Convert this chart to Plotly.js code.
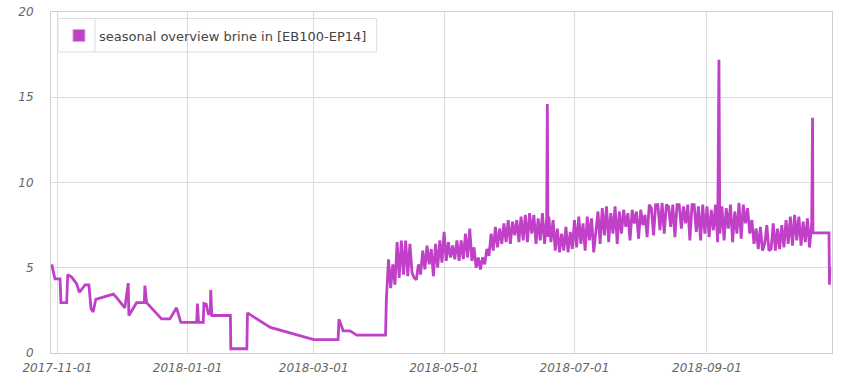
<!DOCTYPE html>
<html>
<head>
<meta charset="utf-8">
<script src="https://cdn.plot.ly/plotly-3.0.1.min.js"></script>
<style>
html,body{margin:0;padding:0;background:#fff;}
#chart{width:850px;height:375px;}
</style>
</head>
<body>
<div id="chart"></div>
<script>
// Data: offsets in days from the base date, and brine-in temperatures
const baseDate = "2017-11-01";
const seriesName = "seasonal overview brine in [EB100-EP14]";
const dayOffsets = [
  -2.6, -1.1, 1.3, 1.7, 4.4, 4.9, 6.7, 9.1, 10.3, 13.0, 14.8, 15.8, 16.8, 18.0,
  26.2, 27.8, 31.6, 33.2, 33.5, 37.1, 40.7, 41.0, 41.8, 48.8, 52.7, 55.8, 57.8,
  65.2, 65.6, 66.1, 68.3, 68.6, 69.7, 70.7, 71.6, 71.8, 72.3, 81.0, 81.2, 88.7,
  89.0, 99.7, 120.0, 131.4, 131.8, 133.8, 137.0, 140.1, 153.6,
  154, 155, 156, 157, 158, 159, 160, 161, 162, 163, 164, 165, 166, 167, 168, 169,
  170, 171, 172, 173, 174, 175, 176, 177, 178, 179, 180, 181, 182, 183, 184, 185,
  186, 187, 188, 189, 190, 191, 192, 193, 194, 195, 196, 197, 198, 199, 200, 201,
  202, 203, 204, 205, 206, 207, 208, 209, 210, 211, 212, 213, 214, 215, 216, 217,
  218, 219, 220, 221, 222, 223, 224, 225, 226, 227, 228, 229, 229.3, 229.6, 230,
  231, 232, 233, 234, 235, 236, 237, 238, 239, 240, 241, 242, 243, 244, 245, 246,
  247, 248, 249, 250, 251, 252, 253, 254, 255, 256, 257, 258, 259, 260, 261, 262,
  263, 264, 265, 266, 267, 268, 269, 270, 271, 272, 273, 274, 275, 276, 277, 278,
  279, 280, 281, 282, 283, 284, 285, 286, 287, 288, 289, 290, 291, 292, 293, 294,
  295, 296, 297, 298, 299, 300, 301, 302, 303, 304, 305, 306, 307, 308, 309, 309.6,
  310, 311, 312, 313, 314, 315, 316, 317, 318, 319, 320, 321, 322, 323, 324, 325,
  326, 327, 328, 329, 330, 331, 332, 333, 334, 335, 336, 337, 338, 339, 340, 341,
  342, 343, 344, 345, 346, 347, 348, 349, 350, 351, 352, 353, 353.4, 353.6, 361.1,
  361.3, 361.5
];
const brineIn = [
  5.2, 4.35, 4.35, 2.95, 2.95, 4.6, 4.45, 4.05, 3.55, 4.0, 4.0, 2.6, 2.4, 3.15,
  3.45, 3.25, 2.65, 4.1, 2.2, 2.95, 2.95, 3.95, 2.95, 2.0, 2.0, 2.65, 1.8,
  1.8, 2.9, 1.8, 1.8, 2.9, 2.85, 2.3, 2.3, 3.7, 2.2, 2.2, 0.25, 0.25,
  2.35, 1.5, 0.78, 0.78, 1.98, 1.3, 1.3, 1.05, 1.05,
  3.2, 5.5, 3.8, 5.2, 4.0, 6.5, 4.4, 6.6, 4.6, 6.6, 4.5, 6.4, 4.7, 4.4, 4.3, 5.2,
  4.6, 6.0, 4.9, 6.3, 5.2, 6.1, 4.5, 6.4, 5.0, 6.6, 5.3, 7.1, 5.4, 6.5, 5.6, 6.3,
  5.5, 6.6, 5.4, 6.6, 5.5, 7.0, 5.6, 7.3, 5.4, 6.2, 5.0, 5.6, 4.9, 5.6, 5.2, 6.1,
  5.7, 7.0, 6.0, 7.4, 6.2, 7.3, 6.4, 7.6, 6.5, 7.8, 6.4, 7.7, 6.9, 7.8, 6.5, 8.0,
  6.6, 8.1, 6.5, 8.2, 7.0, 8.1, 6.4, 7.9, 6.6, 8.2, 6.4, 7.9, 14.6, 6.8, 8.0,
  6.5, 7.8, 6.0, 7.3, 5.9, 7.0, 6.0, 7.4, 5.9, 7.1, 6.1, 7.8, 6.2, 8.0, 6.4, 7.6,
  6.0, 8.0, 6.6, 7.9, 5.9, 7.2, 8.3, 6.4, 8.5, 6.9, 8.6, 6.5, 8.2, 7.0, 8.6, 6.4,
  8.3, 7.0, 8.4, 7.4, 8.2, 6.6, 8.4, 7.6, 8.3, 6.7, 8.4, 7.5, 8.1, 6.8, 8.7, 8.5,
  6.9, 8.7, 8.7, 7.2, 8.8, 7.0, 8.7, 8.6, 7.4, 8.7, 6.8, 8.7, 8.7, 7.3, 8.6, 7.6,
  8.7, 6.6, 8.7, 8.7, 7.1, 8.6, 6.6, 8.7, 7.0, 8.6, 6.8, 8.4, 7.2, 8.7, 6.5, 17.2,
  7.0, 8.6, 6.6, 8.5, 7.3, 8.7, 6.5, 8.3, 7.0, 8.8, 6.7, 8.7, 7.6, 8.5, 7.0, 7.8,
  6.4, 7.3, 6.1, 7.4, 6.0, 6.4, 7.5, 6.0, 6.1, 7.6, 6.0, 7.3, 6.1, 7.5, 6.2, 7.8,
  6.4, 8.0, 6.3, 8.1, 6.6, 8.0, 6.3, 7.7, 6.5, 7.9, 6.2, 7.6, 13.8, 7.05, 7.05,
  4.0, 5.0
];
const xRange = ["2017-10-29 01:30", "2018-10-29 12:00"];
const yTicks = [0, 5, 10, 15, 20];

function toDateStr(offset) {
  const base = Date.parse(baseDate + "T00:00:00Z");
  return new Date(base + offset * 86400000).toISOString().slice(0, 19).replace("T", " ");
}
const dates = dayOffsets.map(toDateStr);

const lineColor = "#c040c8";
const tickFont = {family: "DejaVu Sans, Verdana, sans-serif", size: 12, color: "#666", style: "italic"};

const traces = [
  {
    type: "bar", x: [null], y: [null], name: seriesName, legendgroup: "s",
    marker: {color: lineColor, line: {color: "#d9a6dc", width: 1}}, showlegend: true,
    hoverinfo: "skip"
  },
  {
    type: "scatter", mode: "lines", x: dates, y: brineIn, name: seriesName,
    legendgroup: "s", showlegend: false,
    line: {color: lineColor, width: 2.8, shape: "linear"}
  }
];

const layout = {
  width: 850, height: 375,
  margin: {l: 51, r: 18, t: 12, b: 22, pad: 0},
  paper_bgcolor: "#fff", plot_bgcolor: "#fff",
  showlegend: true,
  legend: {
    x: 0.0102, y: 0.975, xanchor: "left", yanchor: "top",
    bgcolor: "rgba(0,0,0,0)", borderwidth: 0,
    font: {family: "DejaVu Sans, Verdana, sans-serif", size: 13, color: "#444"}
  },
  xaxis: {
    type: "date", range: xRange,
    tick0: "2017-11-01", dtick: "M2", tickformat: "%Y-%m-%d",
    showgrid: true, gridcolor: "#dcdcdc", gridwidth: 1,
    showline: true, linecolor: "#cfcfcf", linewidth: 1, mirror: true,
    zeroline: false, ticks: "", tickfont: tickFont, ticklabelstandoff: 4
  },
  yaxis: {
    range: [0, 20], tickvals: yTicks, ticktext: yTicks.map(String),
    showgrid: true, gridcolor: "#dcdcdc", gridwidth: 1,
    showline: true, linecolor: "#cfcfcf", linewidth: 1, mirror: true,
    zeroline: false, ticks: "", tickfont: tickFont, ticklabelstandoff: 14
  },
  shapes: [
    {type: "rect", xref: "paper", yref: "paper", x0: 0.009, x1: 0.417, y0: 0.883, y1: 0.981,
     line: {color: "#dddddd", width: 1}, fillcolor: "rgba(0,0,0,0)"},
    {type: "line", xref: "paper", yref: "paper", x0: 0.0563, x1: 0.0563, y0: 0.883, y1: 0.981,
     line: {color: "#dddddd", width: 1}}
  ]
};

Plotly.newPlot("chart", traces, layout, {displayModeBar: false, staticPlot: true});
</script>
</body>
</html>
